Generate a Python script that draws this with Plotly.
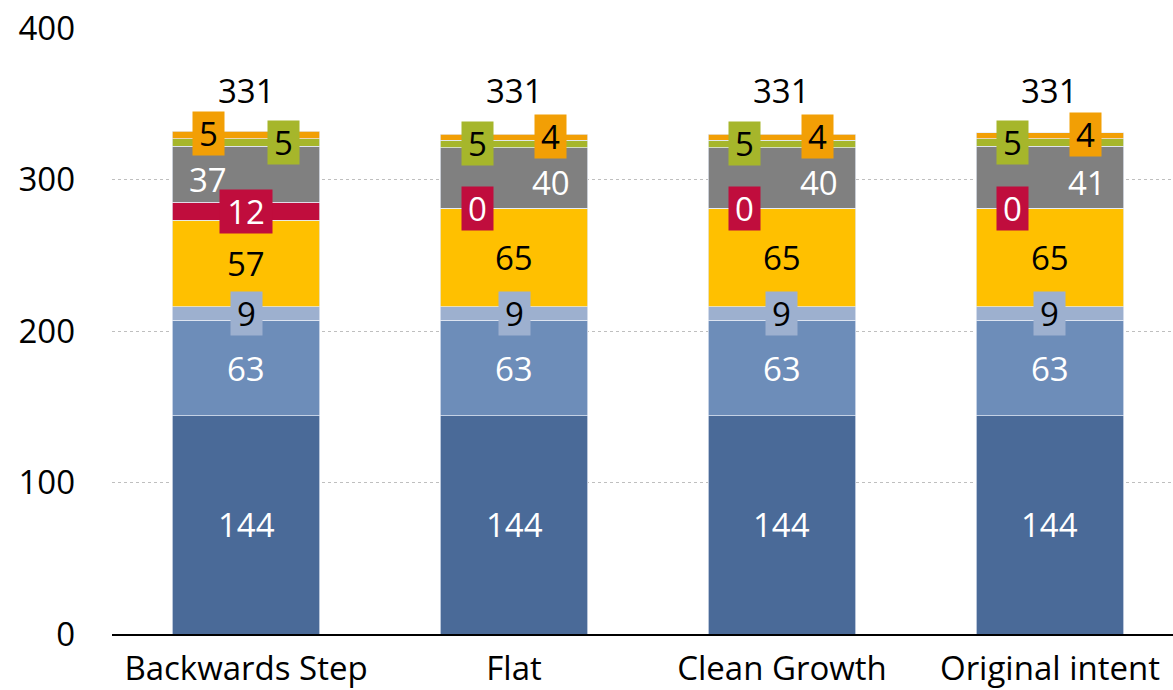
import plotly.graph_objects as go

# Scenario categories and stacked segment values
categories = ["Backwards Step", "Flat", "Clean Growth", "Original intent"]

seg_dark_blue = [144, 144, 144, 144]
seg_mid_blue = [63, 63, 63, 63]
seg_light_blue = [9, 9, 9, 9]
seg_yellow = [57, 65, 65, 65]
seg_crimson = [12, 0, 0, 0]
seg_grey = [37, 40, 40, 41]
seg_green = [5, 5, 5, 5]
seg_orange = [5, 4, 4, 4]

totals = [331, 331, 331, 331]

FONT = "Open Sans"
FS = 33

# (values, fill colour, label colour, boxed label,
#  horizontal label shift per bar in px, vertical label shift in px)
series = [
    (seg_dark_blue, "#4A6A98", "white", False, [0, 0, 0, 0], 0),
    (seg_mid_blue, "#6D8DB9", "white", False, [0, 0, 0, 0], 0),
    (seg_light_blue, "#9DB0CF", "black", True, [0, 0, 0, 0], 0),
    (seg_yellow, "#FFC000", "black", False, [0, 0, 0, 0], 0),
    (seg_crimson, "#C00D3D", "white", True, [0, -37, -37, -37], 0),
    (seg_grey, "#808080", "white", False, [-38, 37, 37, 37], -5),
    (seg_green, "#A6B62B", "black", True, [37, -37, -37, -37], 0),
    (seg_orange, "#F29F05", "black", True, [-38, 36, 36, 36], 1),
]

fig = go.Figure()
annotations = []
base = [0.0] * len(categories)

for vals, color, txt_color, boxed, shifts, dy in series:
    fig.add_trace(go.Bar(
        x=list(range(len(categories))),
        y=vals,
        width=0.552,
        marker=dict(color=color, line=dict(color="rgba(230,236,245,0.9)", width=0.8)),
        hoverinfo="skip",
        showlegend=False,
    ))
    for i, v in enumerate(vals):
        ann = dict(
            x=i, y=base[i] + v / 2, xref="x", yref="y",
            text=str(v), showarrow=False, xshift=shifts[i], yshift=dy,
            font=dict(family=FONT, size=FS, color=txt_color),
        )
        if boxed:
            ann.update(bgcolor=color, width=len(str(v)) * 21 + 10, height=43, borderpad=0)
        annotations.append(ann)
        base[i] += v

for i, t in enumerate(totals):
    annotations.append(dict(
        x=i, y=t, xref="x", yref="y", text=str(t), showarrow=False,
        yanchor="bottom", yshift=18,
        font=dict(family=FONT, size=FS, color="black"),
    ))

fig.update_layout(
    barmode="stack",
    width=1173, height=690,
    margin=dict(l=112, r=0, t=28, b=56),
    plot_bgcolor="white", paper_bgcolor="white",
    font=dict(family=FONT, size=FS, color="black"),
    annotations=annotations,
    xaxis=dict(
        range=[-0.5, 3.459],
        tickmode="array", tickvals=list(range(len(categories))), ticktext=categories,
        showline=True, linecolor="black", linewidth=2,
        showgrid=False, ticks="", ticklabelstandoff=4,
        tickfont=dict(family=FONT, size=FS, color="black"),
    ),
    yaxis=dict(
        range=[0, 400], dtick=100,
        showgrid=True, gridcolor="#BFBFBF", griddash="dot", gridwidth=1,
        zeroline=False, showline=False, ticks="",
        ticklabelstandoff=36,
        tickfont=dict(family=FONT, size=FS, color="black"),
    ),
)

fig.write_html("out.html")
